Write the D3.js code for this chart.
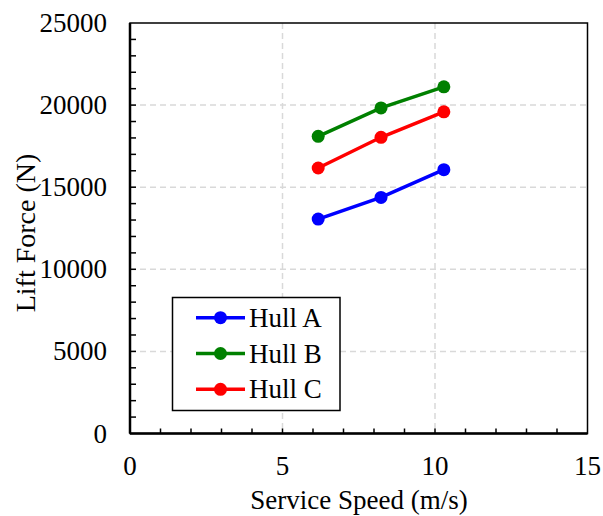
<!DOCTYPE html>
<html><head><meta charset="utf-8">
<script src="https://cdn.jsdelivr.net/npm/d3@7"></script>
<style>body{margin:0;background:#fff}svg{display:block}text{font-family:"Liberation Serif","Times New Roman",serif;fill:#000}</style>
</head><body><div id="chart"></div>
<script>
const speeds = [6.17, 8.23, 10.29];
const hullA = [13060, 14380, 16070];
const hullB = [18100, 19830, 21110];
const hullC = [16170, 18040, 19590];
const seriesNames = ["Hull A", "Hull B", "Hull C"];
const seriesColors = ["#0000ff", "#008000", "#ff0000"];
const xTicks = [0, 5, 10, 15];
const yTicks = [0, 5000, 10000, 15000, 20000, 25000];

const W = 603, H = 516;
const L = 130, R = 587.5, T = 23, B = 433.5;
const svg = d3.select("#chart").append("svg").attr("width", W).attr("height", H);
const x = d3.scaleLinear().domain([0, 15]).range([L, R]);
const y = d3.scaleLinear().domain([0, 25000]).range([B, T]);

// grid
const grid = svg.append("g").attr("stroke", "#d9d9d9").attr("stroke-width", 1.5).attr("stroke-dasharray", "6,4");
grid.selectAll(".gx").data([5, 10]).join("line")
  .attr("x1", d => x(d)).attr("x2", d => x(d)).attr("y1", T).attr("y2", B);
grid.selectAll(".gy").data([5000, 10000, 15000, 20000]).join("line")
  .attr("x1", L).attr("x2", R).attr("y1", d => y(d)).attr("y2", d => y(d));

// minor ticks
const tk = svg.append("g").attr("stroke", "#000").attr("stroke-width", 1.5);
tk.selectAll(".tx").data(d3.range(1, 15)).join("line")
  .attr("x1", d => x(d)).attr("x2", d => x(d)).attr("y1", B).attr("y2", B - 5);
tk.selectAll(".ty").data(d3.range(1000, 25000, 1000)).join("line")
  .attr("x1", L).attr("x2", L + 6).attr("y1", d => y(d)).attr("y2", d => y(d));

// frame
svg.append("rect").attr("x", L).attr("y", T).attr("width", R - L).attr("height", B - T)
  .attr("fill", "none").attr("stroke", "#000").attr("stroke-width", 1.5);
svg.append("line").attr("x1", L).attr("x2", R).attr("y1", B).attr("y2", B).attr("stroke", "#000").attr("stroke-width", 2.5);
svg.append("line").attr("x1", L).attr("x2", L).attr("y1", T).attr("y2", B).attr("stroke", "#000").attr("stroke-width", 2.5);

// tick labels
svg.selectAll(".xl").data(xTicks).join("text")
  .attr("x", d => x(d)).attr("y", 475).attr("text-anchor", "middle").attr("font-size", 27).text(d => d);
svg.selectAll(".yl").data(yTicks).join("text")
  .attr("x", 107).attr("y", d => y(d) + 9).attr("text-anchor", "end").attr("font-size", 27).text(d => d);

// axis titles
svg.append("text").attr("x", 359).attr("y", 509).attr("text-anchor", "middle").attr("font-size", 27).text("Service Speed (m/s)");
svg.append("text").attr("transform", `translate(35,233) rotate(-90)`).attr("text-anchor", "middle").attr("font-size", 28).text("Lift Force (N)");

// series
const data = [hullA, hullB, hullC];
const line = d3.line().x((d, i) => x(speeds[i])).y(d => y(d));
data.forEach((vals, k) => {
  svg.append("path").datum(vals).attr("d", line).attr("fill", "none")
    .attr("stroke", seriesColors[k]).attr("stroke-width", 3.5);
  svg.selectAll(null).data(vals).join("circle")
    .attr("cx", (d, i) => x(speeds[i])).attr("cy", d => y(d)).attr("r", 6.5).attr("fill", seriesColors[k]);
});

// legend
const lg = svg.append("g");
lg.append("rect").attr("x", 172.5).attr("y", 297.5).attr("width", 167.5).attr("height", 113)
  .attr("fill", "#fff").attr("stroke", "#000").attr("stroke-width", 1.5);
const rows = [317.7, 353.5, 389.3];
seriesNames.forEach((n, k) => {
  lg.append("line").attr("x1", 196).attr("x2", 245).attr("y1", rows[k]).attr("y2", rows[k])
    .attr("stroke", seriesColors[k]).attr("stroke-width", 3.5);
  lg.append("circle").attr("cx", 220.5).attr("cy", rows[k]).attr("r", 6.5).attr("fill", seriesColors[k]);
  lg.append("text").attr("x", 249).attr("y", rows[k] + 9).attr("font-size", 27).text(n);
});
</script></body></html>
